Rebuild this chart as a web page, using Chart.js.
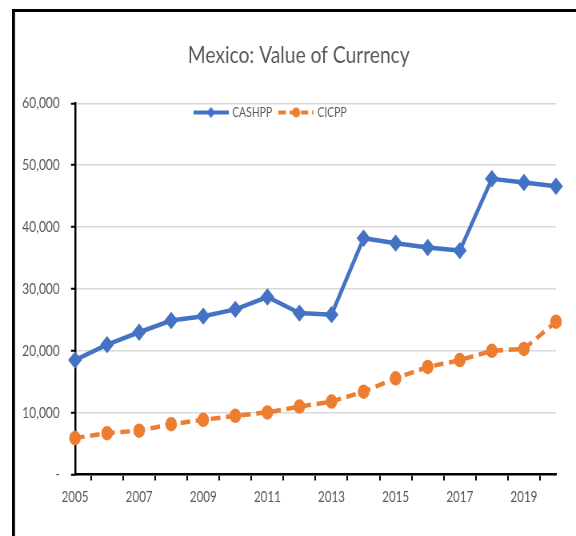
<!DOCTYPE html>
<html>
<head>
<meta charset="utf-8">
<script src="https://cdn.jsdelivr.net/npm/chart.js@4.4.0/dist/chart.umd.min.js"></script>
<style>
    html, body { margin: 0; padding: 0; background: #fff; overflow: hidden; }
    /* the original picture is squeezed sideways, so the canvas is drawn wider and shown at 576px */
    #myChart { display: block; width: 576px; height: 536px; }
</style>
</head>
<body>
<canvas id="myChart" width="720" height="536" style="width:576px;height:536px"></canvas>
<script>
let years = ['2005', '2006', '2007', '2008', '2009', '2010', '2011', '2012',
             '2013', '2014', '2015', '2016', '2017', '2018', '2019', '2020'];
let cashpp = [18500, 21000, 23000, 24900, 25600, 26700, 28700, 26100,
              25850, 38200, 37400, 36700, 36200, 47800, 47200, 46600];
let cicpp = [5900, 6700, 7100, 8150, 8850, 9500, 10050, 11000,
             11800, 13400, 15550, 17400, 18500, 20000, 20300, 24700];
let yMin = 0;
let yMax = 60000;
let yStep = 10000;

const S = 0.8; // horizontal squeeze of the shown canvas
const FONT = "Lato, 'Open Sans', sans-serif";
const BLUE = '#4472C4';
const ORANGE = '#ED7D31';
const GREY = '#595959';

Chart.defaults.font.family = FONT;
Chart.defaults.color = GREY;

// legend sample: short line with the marker in the middle, like Excel
function legendSample(color, dashed, diamond) {
    let c = document.createElement('canvas');
    c.width = 44;
    c.height = 12;
    let g = c.getContext('2d');
    g.strokeStyle = color;
    g.fillStyle = color;
    g.lineWidth = 4;
    if (dashed) g.setLineDash([9, 5]);
    g.beginPath();
    g.moveTo(0, 6);
    g.lineTo(44, 6);
    g.stroke();
    g.beginPath();
    if (diamond) {
        g.moveTo(22, 0.5); g.lineTo(27.5, 6); g.lineTo(22, 11.5); g.lineTo(16.5, 6);
    } else {
        g.arc(22, 6, 5, 0, Math.PI * 2);
    }
    g.closePath();
    g.fill();
    return c;
}
let samples = [legendSample(BLUE, false, true), legendSample(ORANGE, true, false)];

// white background and the outer frame (only top and left edges show)
let framePlugin = {
    id: 'frame',
    beforeDraw(chart) {
        let ctx = chart.ctx;
        ctx.save();
        ctx.fillStyle = '#fff';
        ctx.fillRect(0, 0, chart.width, chart.height);
        ctx.fillStyle = '#000';
        ctx.fillRect(12 / S, 9, 3 / S, chart.height - 9);
        ctx.fillRect(12 / S, 9, chart.width - 12 / S, 3);
        ctx.restore();
    }
};

// legend sits inside the plot area, just below the top gridline; title a bit right
let moveBoxes = {
    id: 'moveBoxes',
    afterLayout(chart) {
        let lg = chart.legend;
        let h = lg.height;
        lg.top = 96;
        lg.bottom = 96 + h;
        lg.left -= 9;
        lg.right -= 9;
        let t = chart.titleBlock;
        t.left += 26;
        t.right += 26;
    }
};

new Chart(document.getElementById('myChart'), {
    type: 'line',
    data: {
        labels: years,
        datasets: [{
            label: 'CASHPP',
            data: cashpp,
            borderColor: BLUE,
            backgroundColor: BLUE,
            borderWidth: 4.5,
            pointStyle: 'rectRot',
            pointRadius: 5.5,
            tension: 0
        }, {
            label: 'CICPP',
            data: cicpp,
            borderColor: ORANGE,
            backgroundColor: ORANGE,
            borderWidth: 4.5,
            borderDash: [12, 7],
            pointStyle: 'circle',
            pointRadius: 5,
            tension: 0
        }]
    },
    options: {
        responsive: false,
        animation: false,
        devicePixelRatio: 1,
        layout: { padding: { left: 0, right: 25, top: 0, bottom: 22 } },
        plugins: {
            title: {
                display: true,
                text: 'Mexico: Value of Currency',
                color: GREY,
                font: { size: 24, weight: 'normal' },
                padding: { top: 41, bottom: 0.5 }
            },
            legend: {
                display: true,
                position: 'top',
                labels: {
                    usePointStyle: true,
                    pointStyleWidth: 40,
                    font: { size: 13 },
                    color: GREY,
                    padding: 10,
                    generateLabels(chart) {
                        let items = Chart.defaults.plugins.legend.labels.generateLabels(chart);
                        items.forEach((it, i) => { it.pointStyle = samples[i]; });
                        return items;
                    }
                }
            },
            tooltip: { enabled: false }
        },
        scales: {
            x: {
                offset: false,
                border: { color: '#000', width: 2.5 },
                grid: {
                    offset: true,
                    drawOnChartArea: false,
                    color: '#000',
                    tickLength: 6,
                    lineWidth: 2
                },
                ticks: {
                    autoSkip: false,
                    maxRotation: 0,
                    padding: 8,
                    font: { size: 14.5 },
                    color: GREY,
                    callback: function(val, i) {
                        return i % 2 === 0 ? years[i] : '';
                    }
                }
            },
            y: {
                min: yMin,
                max: yMax,
                border: { color: '#000', width: 2.5 },
                grid: {
                    color: '#d9d9d9',
                    lineWidth: 1.5,
                    tickColor: '#000',
                    tickLength: 5,
                    tickWidth: 2
                },
                ticks: {
                    stepSize: yStep,
                    padding: 14,
                    font: { size: 15 },
                    color: GREY,
                    callback: function(val) {
                        return val === 0 ? '-' : val.toLocaleString('en-US');
                    }
                },
                afterFit(scale) {
                    scale.width = 75 / S;
                }
            }
        }
    },
    plugins: [framePlugin, moveBoxes]
});
</script>
</body>
</html>
